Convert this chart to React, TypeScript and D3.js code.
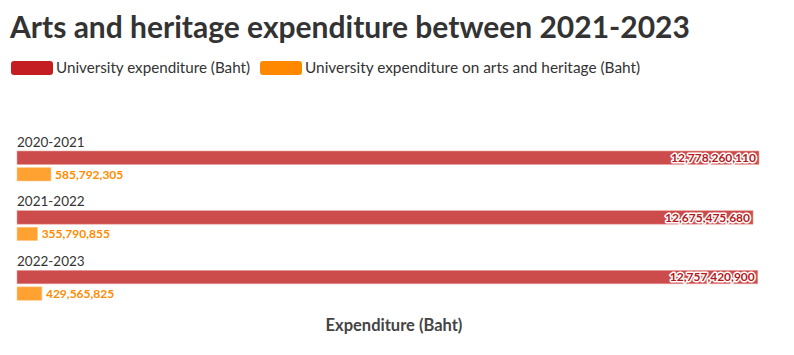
import React from "react";
import * as d3 from "d3";

const years = ["2020-2021", "2021-2022", "2022-2023"];
const universityExpenditure = [12778260110, 12675475680, 12757420900];
const artsExpenditure = [585792305, 355790855, 429565825];
const seriesNames = ["University expenditure (Baht)", "University expenditure on arts and heritage (Baht)"];
const legendColors = ["#c41e22", "#ff8800"];
const barColors = ["#cc4b4b", "#ffa232"];

const W = 794;
const H = 355;
const FONT = "Lato, 'Open Sans', sans-serif";

export default function App() {
  const x = d3.scaleLinear().domain([0, d3.max(universityExpenditure) as number]).range([17, 759]);
  const y = d3.scaleBand().domain(years).range([130, 309]).paddingInner(0).paddingOuter(0);
  const fmt = d3.format(",");
  const barH = 13.5;

  return (
    <svg width={W} height={H} style={{ position: "absolute", left: 0, top: 0, fontFamily: FONT }}>
      <text x={10} y={38} fontSize={30} fontWeight={700} fill="#333">
        Arts and heritage expenditure between 2021-2023
      </text>
      <g>
        <rect x={11} y={61} width={42} height={14} rx={3} fill={legendColors[0]} />
        <text x={56} y={73} fontSize={15.2} fill="#333">{seriesNames[0]}</text>
        <rect x={260} y={61} width={42} height={14} rx={3} fill={legendColors[1]} />
        <text x={305} y={73} fontSize={15.4} fill="#333">{seriesNames[1]}</text>
      </g>
      {years.map((yr, i) => {
        const y0 = y(yr) as number;
        const redY = y0 + 21;
        const orY = redY + 16.5;
        const rx = x(universityExpenditure[i]);
        const ox = x(artsExpenditure[i]);
        return (
          <g key={yr}>
            <text x={17} y={y0 + 16.5} fontSize={13.5} fill="#333">{yr}</text>
            <rect x={x(0)} y={redY} width={rx - x(0)} height={barH} fill={barColors[0]} stroke="#e9a3a3" strokeWidth={0.6} />
            <rect x={x(0)} y={orY} width={ox - x(0)} height={barH} fill={barColors[1]} stroke="#ffd09a" strokeWidth={0.6} />
            <text x={rx - 3} y={redY + 11} textAnchor="end" fontSize={12} fontWeight={700}
              fill="#b3191c" stroke="#fff" strokeWidth={3} strokeLinejoin="round" paintOrder="stroke">
              {fmt(universityExpenditure[i])}
            </text>
            <text x={ox + 4} y={orY + 11} fontSize={12} fontWeight={700} fill="#ff8c00">
              {fmt(artsExpenditure[i])}
            </text>
          </g>
        );
      })}
      <text x={394} y={331} textAnchor="middle" fontSize={16.5} fontWeight={700} fill="#444">Expenditure (Baht)</text>
    </svg>
  );
}
